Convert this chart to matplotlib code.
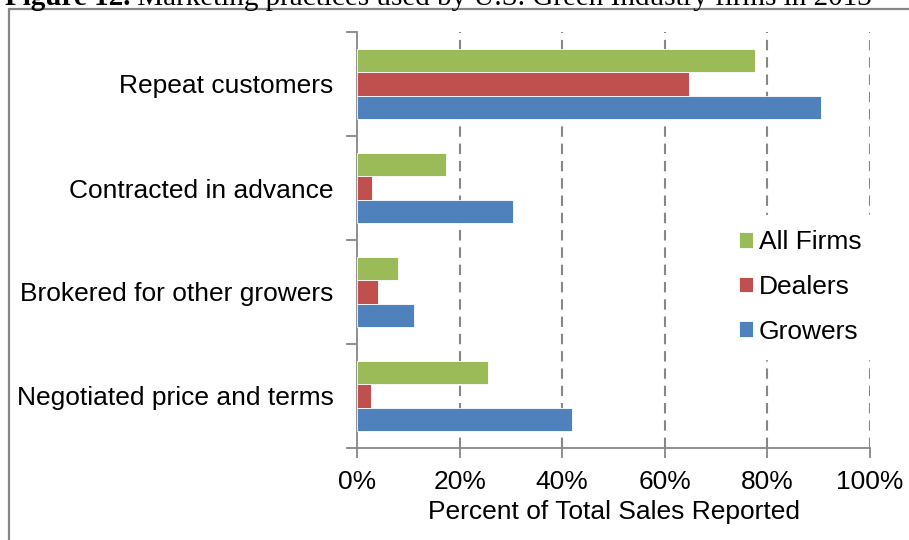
import matplotlib.pyplot as plt
from matplotlib.patches import Rectangle
import numpy as np

practices = ["Repeat customers", "Contracted in advance",
             "Brokered for other growers", "Negotiated price and terms"]
all_firms = [77.5, 17.3, 8.0, 25.6]
dealers = [64.8, 2.9, 4.1, 2.7]
growers = [90.4, 30.4, 11.1, 41.9]
x_ticks = [0, 20, 40, 60, 80, 100]
x_ticklabels = ["0%", "20%", "40%", "60%", "80%", "100%"]

plt.rcParams["font.family"] = ["Liberation Sans", "DejaVu Sans"]

W, H = 909, 540
fig = plt.figure(figsize=(W / 100, H / 100), dpi=100)

# outer frame around the chart, running off the right and bottom edges
fig.patches.append(Rectangle((9 / W, -0.1), 1.2, 1 - 9 / H + 0.1,
                             transform=fig.transFigure, fill=False,
                             edgecolor="#878787", linewidth=1.6))

# caption, mostly cut off at the top
t1 = fig.text(5 / W, 1 - 5 / H, "Figure 12.", fontsize=21, fontweight="bold",
              family="Liberation Serif", va="baseline", ha="left")
fig.canvas.draw()
bb = t1.get_window_extent(fig.canvas.get_renderer())
fig.text(bb.x1 / W, 1 - 5 / H,
         " Marketing practices used by U.S. Green Industry firms in 2013",
         fontsize=21, family="Liberation Serif", va="baseline", ha="left")

ax = fig.add_axes([357 / W, 1 - 448 / H, 513 / W, 416 / H])

y = np.arange(len(practices))[::-1]
h = 0.222
edge = dict(edgecolor="#ffffff", linewidth=0.6, zorder=3)
ax.barh(y + h, all_firms, height=h, color="#9BBB59", label="All Firms", **edge)
ax.barh(y, dealers, height=h, color="#C0504D", label="Dealers", **edge)
ax.barh(y - h, growers, height=h, color="#4F81BD", label="Growers", **edge)

ax.set_xlim(0, 100)
ax.set_ylim(-0.5, len(practices) - 0.5)

for gx in x_ticks[1:]:
    ax.axvline(gx, color="#878787", linewidth=1.5,
               linestyle=(0, (5, 3.3)), zorder=1)

ax.set_xticks(x_ticks)
ax.set_xticklabels(x_ticklabels, fontsize=19)
ax.set_yticks(y)
ax.set_yticklabels(practices, fontsize=19)
ax.tick_params(axis="y", length=0, pad=17)
ax.set_yticks(np.arange(-0.5, len(practices)), minor=True)
ax.tick_params(axis="y", which="minor", length=8, color="#878787", width=1.3)
ax.tick_params(axis="x", length=7, color="#878787", width=1.3, pad=9)

for side in ["top", "right"]:
    ax.spines[side].set_visible(False)
for side in ["left", "bottom"]:
    ax.spines[side].set_color("#878787")
    ax.spines[side].set_linewidth(1.3)

ax.set_xlabel("Percent of Total Sales Reported", fontsize=19, labelpad=4)

leg = ax.legend(loc="center left", bbox_to_anchor=(0.688, 0.387), fontsize=19,
                frameon=True, fancybox=False, framealpha=1, edgecolor="white",
                handlelength=0.53, handleheight=0.53, handletextpad=0.23,
                labelspacing=0.78, borderpad=0.6)
leg.set_zorder(5)

fig.savefig("out.png", dpi=100)
